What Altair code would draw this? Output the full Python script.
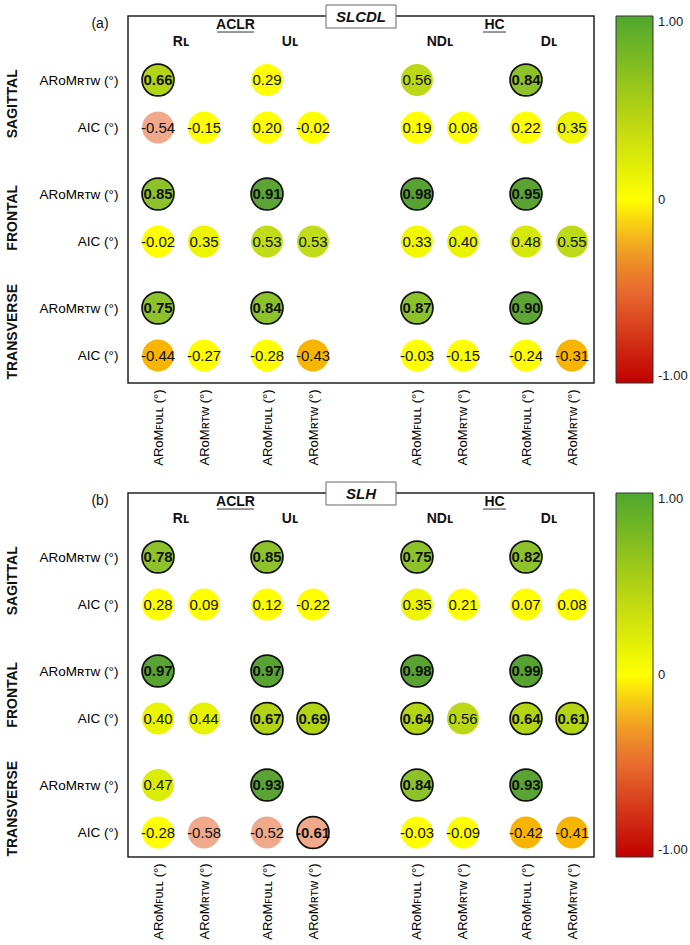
import altair as alt
import pandas as pd

FONT = "Liberation Sans"

# ---------------- data ----------------
planes = ["SAGITTAL", "FRONTAL", "TRANSVERSE"]
cohorts = ["ACLR", "HC"]
limbs = ["Rʟ", "Uʟ", "NDʟ", "Dʟ"]
x_labels = ["ARᴏMꜰᴜʟʟ (°)", "ARᴏMʀᴛᴡ (°)"]
y_labels = ["ARᴏMʀᴛᴡ (°)", "AIC (°)"]
panel_tags = ["(a)", "(b)"]
panel_names = ["SLCDL", "SLH"]

# ARoM_RTW rows (vs ARoM_FULL), one value per limb: RL, UL, NDL, DL
a_arom = [[0.66, 0.29, 0.56, 0.84],
          [0.85, 0.91, 0.98, 0.95],
          [0.75, 0.84, 0.87, 0.90]]
# AIC rows, per limb: (vs ARoM_FULL, vs ARoM_RTW)
a_aic = [[-0.54, -0.15, 0.20, -0.02, 0.19, 0.08, 0.22, 0.35],
         [-0.02, 0.35, 0.53, 0.53, 0.33, 0.40, 0.48, 0.55],
         [-0.44, -0.27, -0.28, -0.43, -0.03, -0.15, -0.24, -0.31]]

b_arom = [[0.78, 0.85, 0.75, 0.82],
          [0.97, 0.97, 0.98, 0.99],
          [0.47, 0.93, 0.84, 0.93]]
b_aic = [[0.28, 0.09, 0.12, -0.22, 0.35, 0.21, 0.07, 0.08],
         [0.40, 0.44, 0.67, 0.69, 0.64, 0.56, 0.64, 0.61],
         [-0.28, -0.58, -0.52, -0.61, -0.03, -0.09, -0.42, -0.41]]

legend_values = [-1.0, 0.0, 1.0]

# ---------------- colours ----------------
FILL_DOM = [-1.0, -0.62, -0.50, -0.47, -0.30, -0.29, 0.30, 0.34, 0.45, 0.52,
            0.58, 0.72, 0.74, 0.88, 0.89, 1.0]
FILL_RNG = ["#C00000", "#F0A98B", "#F0A98B", "#F7B500", "#F7B500", "#FFFF00",
            "#FFFF00", "#EEF600", "#E4F200", "#C3DD1A", "#B5D614", "#B0D314",
            "#8EC22B", "#8EC22B", "#5DA535", "#58A232"]
LEG_DOM = [-1.0, -0.5, -0.25, 0.0, 0.5, 1.0]
LEG_RNG = ["#C00000", "#E8692F", "#F2A623", "#FFFF00", "#B0D015", "#4EA72E"]

# ---------------- layout ----------------
W = 466
HEIGHTS = [367, 364]
LIMB_X = [0.0, 2.37, 5.63, 8.0]
PLANE_STEP = 2.4
XMIN, XMAX = -30 / 46, (W - 30) / 46
COHORT_Y = -1.16
LIMB_Y = -0.8

xs = alt.Scale(domain=[XMIN, XMAX], nice=False, zero=False)

x_vals = []
for gx in LIMB_X:
    x_vals += [gx, gx + 1]
y_vals = []
for p in range(3):
    y_vals += [round(p * PLANE_STEP, 2), round(p * PLANE_STEP + 1, 2)]

full_test = " || ".join(f"datum.value == {v}" for v in LIMB_X)
AX = alt.Axis(values=x_vals, labelExpr=f"({full_test}) ? '{x_labels[0]}' : '{x_labels[1]}'",
              labelAngle=270, title=None, ticks=False, domain=False, grid=False,
              labelFontSize=13, labelPadding=6, labelColor="black", labelFont=FONT,
              labelFlush=False, labelOverlap=False)
AY = alt.Axis(values=y_vals, labelExpr=f"round(datum.value*10) % 24 == 0 ? '{y_labels[0]}' : '{y_labels[1]}'",
              title=None, ticks=False, domain=False, grid=False,
              labelFontSize=13.5, labelPadding=10, labelColor="black", labelFont=FONT,
              labelFlush=False, labelOverlap=False)


def panel(k, arom, aic):
    H = HEIGHTS[k]
    ys = alt.Scale(domain=[-64 / 47.5, (H - 64) / 47.5], nice=False, zero=False, reverse=True)

    def X(f="x"):
        return alt.X(f"{f}:Q", scale=xs, axis=AX)

    def Y(f="y"):
        return alt.Y(f"{f}:Q", scale=ys, axis=AY)

    recs = []
    for p in range(3):
        yb = round(p * PLANE_STEP, 2)
        for g in range(4):
            recs.append(dict(x=LIMB_X[g], y=yb, r=arom[p][g]))
            recs.append(dict(x=LIMB_X[g], y=round(yb + 1, 2), r=aic[p][2 * g]))
            recs.append(dict(x=LIMB_X[g] + 1, y=round(yb + 1, 2), r=aic[p][2 * g + 1]))
    df = pd.DataFrame(recs)
    df["label"] = [f"{v:.2f}" for v in df["r"]]
    df["sig"] = df["r"].abs() >= 0.6

    circles = alt.Chart(df).mark_circle(size=1018, opacity=1, stroke="#111").encode(
        x=X(), y=Y(),
        fill=alt.Fill("r:Q", scale=alt.Scale(domain=FILL_DOM, range=FILL_RNG, interpolate="rgb"),
                      legend=None),
        strokeWidth=alt.condition("datum.sig", alt.value(1.7), alt.value(0)),
    )
    txt_n = alt.Chart(df).transform_filter("!datum.sig").mark_text(
        font=FONT, fontSize=15, color="#111").encode(x=X(), y=Y(), text="label:N")
    txt_b = alt.Chart(df).transform_filter("datum.sig").mark_text(
        font=FONT, fontSize=15, fontWeight="bold", color="#111").encode(x=X(), y=Y(), text="label:N")

    cdf = pd.DataFrame({"x": [(LIMB_X[0] + LIMB_X[1] + 1) / 2, (LIMB_X[2] + LIMB_X[3] + 1) / 2],
                        "y": [COHORT_Y] * 2, "t": cohorts, "hw": [0.40, 0.25]})
    cdf["x1"] = cdf["x"] - cdf["hw"]
    cdf["x2"] = cdf["x"] + cdf["hw"]
    cdf["yu"] = cdf["y"] + 0.15
    coh = alt.Chart(cdf).mark_text(font=FONT, fontSize=14, fontWeight="bold", color="#111").encode(
        x=X(), y=Y(), text="t:N")
    und = alt.Chart(cdf).mark_rule(color="#333", strokeWidth=1).encode(
        x=X("x1"), x2="x2:Q", y=Y("yu"))

    ldf = pd.DataFrame({"x": [g + 0.5 for g in LIMB_X], "y": [LIMB_Y] * 4, "t": limbs})
    lim = alt.Chart(ldf).mark_text(font=FONT, fontSize=14, fontWeight="bold", color="#111").encode(
        x=X(), y=Y(), text="t:N")

    pdf = pd.DataFrame({"y": [p * PLANE_STEP + 0.5 for p in range(3)], "t": planes})
    pl = alt.Chart(pdf).mark_text(font=FONT, fontSize=14, fontWeight="bold", angle=270,
                                  color="#111").encode(
        x=alt.value(-115), y=Y(), text="t:N")

    one = pd.DataFrame({"t": [panel_tags[k]], "n": [panel_names[k]]})
    tag = alt.Chart(one).mark_text(font=FONT, fontSize=14, color="#111").encode(
        x=alt.value(-28), y=alt.value(8), text="t:N")
    box = alt.Chart(one).mark_rect(fill="white", stroke="#666", strokeWidth=1).encode(
        x=alt.value(W / 2 - 35), x2=alt.value(W / 2 + 35), y=alt.value(-11), y2=alt.value(12))
    boxt = alt.Chart(one).mark_text(font=FONT, fontSize=15, fontWeight="bold", fontStyle="italic",
                                    color="#111").encode(
        x=alt.value(W / 2), y=alt.value(0.5), text="n:N")

    leg = alt.Chart(pd.DataFrame({"v": legend_values})).mark_point(opacity=0).encode(
        color=alt.Color("v:Q",
                        scale=alt.Scale(domain=LEG_DOM, range=LEG_RNG, interpolate="rgb"),
                        legend=alt.Legend(title=None, values=legend_values,
                                          labelExpr="datum.value == 0 ? '0' : (datum.value > 0 ? '1.00' : '-1.00')",
                                          gradientLength=H, gradientThickness=37,
                                          gradientStrokeColor="#333", gradientStrokeWidth=1,
                                          labelFontSize=13, labelColor="#222", labelFont=FONT,
                                          labelOffset=5, offset=22, padding=0,
                                          orient="right", direction="vertical")))

    return alt.layer(circles, txt_n, txt_b, coh, und, lim, pl, tag, box, boxt, leg).properties(
        width=W, height=H)


chart = alt.vconcat(panel(0, a_arom, a_aic), panel(1, b_arom, b_aic), spacing=14).resolve_scale(
    color="independent", fill="independent"
).resolve_legend(color="independent", fill="independent").properties(
    padding={"left": 5, "top": 3, "right": 0, "bottom": 0}
).configure(font=FONT, background="white").configure_view(
    stroke="#222", strokeWidth=1.5
).configure_legend(gradientVerticalMaxLength=500)

chart.save("out.html", embed_options={"renderer": "svg", "actions": False})
